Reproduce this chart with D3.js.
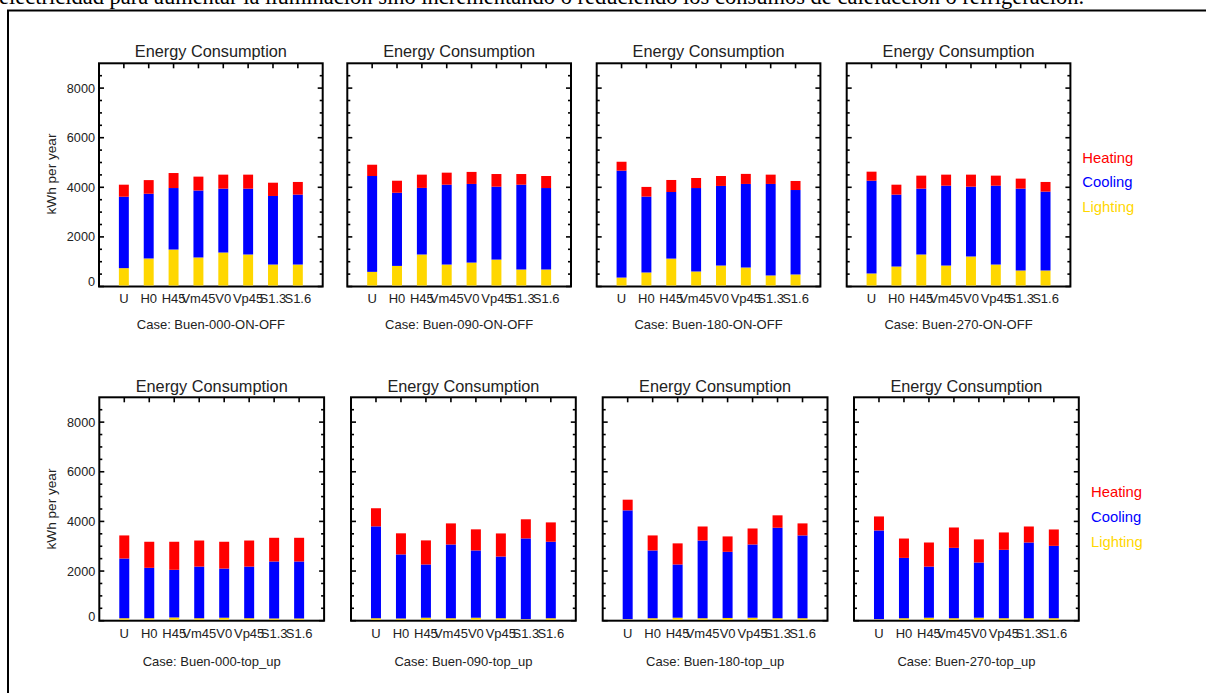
<!DOCTYPE html>
<html>
<head>
<meta charset="utf-8">
<script src="https://cdn.jsdelivr.net/npm/d3@7"></script>
<style>
  html, body { margin: 0; padding: 0; background: #fff; overflow: hidden; }
  svg { display: block; }
</style>
</head>
<body>
<svg id="chart" width="1206" height="693"></svg>
<script>
// ---------------- DATA ----------------
const categories = ["U", "H0", "H45", "Vm45", "V0", "Vp45", "S1.3", "S1.6"];
const seriesNames = ["Lighting", "Cooling", "Heating"];
const tickValues = [0, 2000, 4000, 6000, 8000];
const panelTitle = "Energy Consumption";
const yLabel = "kWh per year";
const topText = "electricidad para aumentar la iluminación sino incrementando o reduciendo los consumos de calefacción o refrigeración.";

const caseNames = [
  "Case: Buen-000-ON-OFF", "Case: Buen-090-ON-OFF", "Case: Buen-180-ON-OFF", "Case: Buen-270-ON-OFF",
  "Case: Buen-000-top_up", "Case: Buen-090-top_up", "Case: Buen-180-top_up", "Case: Buen-270-top_up"
];

// Per-case values (kWh per year) — lighting, cooling, heating per category
const lighting000on = [700, 1090, 1450, 1130, 1330, 1250, 845, 845];
const cooling000on  = [2880, 2610, 2480, 2700, 2575, 2655, 2765, 2820];
const heating000on  = [485, 550, 605, 560, 565, 565, 535, 510];

const lighting090on = [550, 790, 1250, 845, 925, 1045, 645, 645];
const cooling090on  = [3865, 2950, 2685, 3220, 3170, 2940, 3420, 3285];
const heating090on  = [455, 485, 535, 485, 485, 510, 430, 485];

const lighting180on = [320, 525, 1085, 565, 805, 725, 405, 445];
const cooling180on  = [4310, 3060, 2685, 3365, 3210, 3370, 3690, 3405];
const heating180on  = [360, 390, 485, 405, 400, 405, 375, 365];

const lighting270on = [485, 765, 1250, 805, 1170, 845, 605, 605];
const cooling270on  = [3740, 2900, 2655, 3220, 2815, 3180, 3300, 3180];
const heating270on  = [365, 400, 525, 445, 485, 405, 405, 390];

const lighting000tu = [60, 60, 90, 60, 80, 60, 50, 50];
const cooling000tu  = [2405, 2030, 1920, 2080, 1980, 2080, 2295, 2295];
const heating000tu  = [930, 1050, 1130, 1050, 1080, 1050, 955, 955];

const lighting090tu = [60, 50, 80, 60, 80, 60, 20, 60];
const cooling090tu  = [3700, 2580, 2145, 2970, 2710, 2485, 3255, 3080];
const heating090tu  = [730, 850, 970, 850, 850, 930, 770, 780];

const lighting180tu = [20, 60, 80, 60, 70, 80, 60, 60];
const cooling180tu  = [4385, 2730, 2145, 3130, 2665, 2950, 3645, 3335];
const heating180tu  = [430, 605, 850, 565, 620, 645, 500, 485];

const lighting270tu = [20, 60, 80, 60, 80, 60, 60, 60];
const cooling270tu  = [3575, 2430, 2060, 2835, 2225, 2755, 3050, 2915];
const heating270tu  = [565, 780, 970, 820, 930, 700, 645, 660];

const panelSeries = [
  [lighting000on, cooling000on, heating000on],
  [lighting090on, cooling090on, heating090on],
  [lighting180on, cooling180on, heating180on],
  [lighting270on, cooling270on, heating270on],
  [lighting000tu, cooling000tu, heating000tu],
  [lighting090tu, cooling090tu, heating090tu],
  [lighting180tu, cooling180tu, heating180tu],
  [lighting270tu, cooling270tu, heating270tu]
];

// ---------------- STYLE / LAYOUT ----------------
const colors = { Lighting: "#ffd700", Cooling: "#0000ff", Heating: "#ff0000" };
const sansFont = "'Liberation Sans', Arial, Helvetica, sans-serif";
const yMax = 9000;
const barWidthUnits = 0.4;

const rows = [
  { lefts: [99, 347.3, 596.7, 846.7], width: 223.7, top: 63.3, bottom: 286.5,
    titleY: 57.3, catY: 302.7, caseY: 329.3, yLabX: 56, yLabY: 174,
    legendX: 1082.3, legendY: [162.7, 187.3, 211.7] },
  { lefts: [99.3, 351, 602.7, 854], width: 224.8, top: 397.3, bottom: 620.7,
    titleY: 391.7, catY: 638.3, caseY: 665.5, yLabX: 56, yLabY: 509,
    legendX: 1091, legendY: [496.7, 521.7, 546.7] }
];

const svg = d3.select("#chart");

// Page fragment: top text line (cut off) and surrounding box
const tt = svg.append("text")
  .attr("x", -1).attr("y", 3.5)
  .attr("font-family", "'Liberation Serif', 'Times New Roman', serif")
  .attr("font-size", 16)
  .attr("fill", "#000")
  .text(topText);
const targetW = 1086;
const w16 = tt.node().getComputedTextLength();
if (w16 > 0) tt.attr("font-size", 16 * targetW / w16);

svg.append("rect")
  .attr("x", 8).attr("y", 10.5)
  .attr("width", 1250).attr("height", 720)
  .attr("fill", "none").attr("stroke", "#000").attr("stroke-width", 2);

// ---------------- PANELS ----------------
panelSeries.forEach((series, pi) => {
  const row = rows[Math.floor(pi / 4)];
  const col = pi % 4;
  const x0 = row.lefts[col];
  const x1 = x0 + row.width;

  const x = d3.scaleLinear().domain([0, categories.length + 1]).range([x0, x1]);
  const y = d3.scaleLinear().domain([0, yMax]).range([row.bottom, row.top]);

  const g = svg.append("g");

  // inward ticks on left/right (major 2000, minor 500)
  const minorVals = d3.range(500, yMax, 500).filter(v => v % 2000 !== 0);
  const majorLen = 5, minorLen = 3;
  const tickG = g.append("g").attr("stroke", "#000").attr("stroke-width", 1.6);
  tickValues.forEach(v => {
    tickG.append("line").attr("x1", x0).attr("x2", x0 + majorLen).attr("y1", y(v)).attr("y2", y(v));
    tickG.append("line").attr("x1", x1).attr("x2", x1 - majorLen).attr("y1", y(v)).attr("y2", y(v));
  });
  minorVals.forEach(v => {
    tickG.append("line").attr("x1", x0).attr("x2", x0 + minorLen).attr("y1", y(v)).attr("y2", y(v));
    tickG.append("line").attr("x1", x1).attr("x2", x1 - minorLen).attr("y1", y(v)).attr("y2", y(v));
  });
  categories.forEach((c, i) => {
    tickG.append("line").attr("x1", x(i + 1)).attr("x2", x(i + 1)).attr("y1", row.top).attr("y2", row.top + 5);
  });

  // frame
  g.append("rect")
    .attr("x", x0).attr("y", row.top)
    .attr("width", x1 - x0).attr("height", row.bottom - row.top)
    .attr("fill", "none").attr("stroke", "#000").attr("stroke-width", 2);

  // stacked bars (drawn over the frame's bottom edge)
  const table = categories.map((c, i) => {
    const o = { cat: c, idx: i + 1 };
    seriesNames.forEach((s, si) => { o[s] = series[si][i]; });
    return o;
  });
  const stacked = d3.stack().keys(seriesNames)(table);
  const bw = x(barWidthUnits) - x(0);
  const baseShift = 1; // bars start on top of the axis line
  stacked.forEach(layer => {
    g.append("g").selectAll("rect")
      .data(layer)
      .join("rect")
      .attr("x", d => x(d.data.idx) - bw / 2)
      .attr("width", bw)
      .attr("y", d => y(d[1]) - baseShift)
      .attr("height", d => y(d[0]) - y(d[1]))
      .attr("fill", colors[layer.key]);
  });

  // y tick labels (first column only)
  if (col === 0) {
    g.append("g").selectAll("text")
      .data(tickValues)
      .join("text")
      .attr("x", x0 - 4)
      .attr("y", v => y(v) + (v === 0 ? -4.5 : 0))
      .attr("dy", "0.35em")
      .attr("text-anchor", "end")
      .attr("font-family", sansFont).attr("font-size", 12.7)
      .attr("fill", "#222")
      .text(v => v);
    g.append("text")
      .attr("transform", `translate(${row.yLabX},${row.yLabY}) rotate(-90)`)
      .attr("text-anchor", "middle")
      .attr("font-family", sansFont).attr("font-size", 13.6)
      .attr("fill", "#222")
      .text(yLabel);
  }

  // category labels
  g.append("g").selectAll("text")
    .data(categories)
    .join("text")
    .attr("x", (c, i) => x(i + 1))
    .attr("y", row.catY)
    .attr("text-anchor", "middle")
    .attr("font-family", sansFont).attr("font-size", 13)
    .attr("fill", "#222")
    .text(c => c);

  // title
  g.append("text")
    .attr("x", (x0 + x1) / 2).attr("y", row.titleY)
    .attr("text-anchor", "middle")
    .attr("font-family", sansFont).attr("font-size", 16.3)
    .attr("fill", "#222")
    .text(panelTitle);

  // case label
  g.append("text")
    .attr("x", (x0 + x1) / 2).attr("y", row.caseY)
    .attr("text-anchor", "middle")
    .attr("font-family", sansFont).attr("font-size", 13)
    .attr("fill", "#222")
    .text(caseNames[pi]);
});

// ---------------- LEGENDS ----------------
const legendOrder = ["Heating", "Cooling", "Lighting"];
rows.forEach(row => {
  svg.append("g").selectAll("text")
    .data(legendOrder)
    .join("text")
    .attr("x", row.legendX)
    .attr("y", (d, i) => row.legendY[i])
    .attr("font-family", sansFont).attr("font-size", 14.8)
    .attr("fill", d => colors[d])
    .text(d => d);
});
</script>
</body>
</html>
